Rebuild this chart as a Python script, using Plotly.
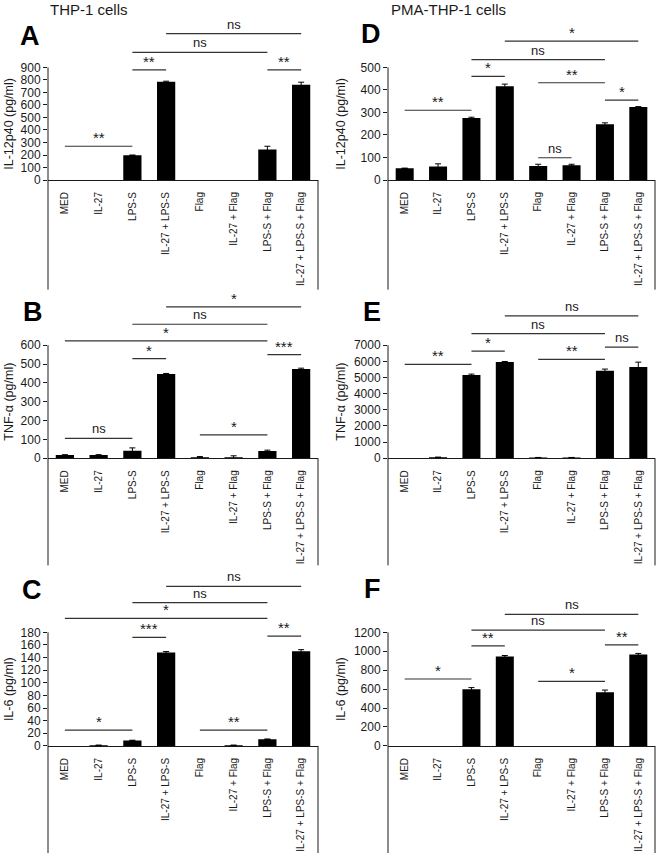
import plotly.graph_objects as go

# ---------------- DATA ----------------
categories = ["MED", "IL-27", "LPS-S", "IL-27 + LPS-S", "Flag",
              "IL-27 + Flag", "LPS-S + Flag", "IL-27 + LPS-S + Flag"]

col_titles = ["THP-1 cells", "PMA-THP-1 cells"]

# Panel A: IL-12p40, THP-1
A_values = [0, 0, 198, 785, 0, 0, 245, 762]
A_errors = [None, None, 2, 5, None, None, 25, 20]
A_ticks = [0, 100, 200, 300, 400, 500, 600, 700, 800, 900]
A_sig_pairs = [(0, 2), (2, 3), (2, 6), (3, 7), (6, 7)]
A_sig_labels = ["**", "**", "ns", "ns", "**"]
A_sig_levels = [270, 880, 1020, 1170, 880]

# Panel B: TNF-alpha, THP-1
B_values = [17, 17, 40, 447, 6, 6, 38, 474]
B_errors = [2, 2, 15, 3, 3, 7, 5, 4]
B_ticks = [0, 100, 200, 300, 400, 500, 600]
B_sig_pairs = [(0, 2), (2, 3), (0, 6), (2, 6), (3, 7), (6, 7), (4, 6)]
B_sig_labels = ["ns", "*", "*", "ns", "*", "***", "*"]
B_sig_levels = [106, 529, 623, 711, 803, 550, 124]

# Panel C: IL-6, THP-1
C_values = [0, 1, 8.5, 148, 0, 1, 10.5, 150]
C_errors = [None, 0.3, 0.5, 1.5, None, 0.3, 0.5, 2.5]
C_ticks = [0, 20, 40, 60, 80, 100, 120, 140, 160, 180]
C_sig_pairs = [(0, 2), (2, 3), (0, 6), (2, 6), (3, 7), (6, 7), (4, 6)]
C_sig_labels = ["*", "***", "*", "ns", "ns", "**", "**"]
C_sig_levels = [25, 172, 202, 227, 253, 174, 25]

# Panel D: IL-12p40, PMA-THP-1
D_values = [52, 60, 275, 416, 62, 66, 248, 324]
D_errors = [1, 12, 4, 10, 8, 4, 6, 2]
D_ticks = [0, 100, 200, 300, 400, 500]
D_sig_pairs = [(0, 2), (2, 3), (2, 6), (3, 7), (4, 6), (6, 7), (4, 5)]
D_sig_labels = ["**", "*", "ns", "*", "**", "*", "ns"]
D_sig_levels = [310, 460, 535, 617, 432, 355, 99]

# Panel E: TNF-alpha, PMA-THP-1
E_values = [10, 60, 5150, 5960, 40, 40, 5420, 5650]
E_errors = [None, 10, 60, 30, 10, 10, 100, 300]
E_ticks = [0, 1000, 2000, 3000, 4000, 5000, 6000, 7000]
E_sig_pairs = [(0, 2), (2, 3), (2, 6), (3, 7), (6, 7), (4, 6)]
E_sig_labels = ["**", "*", "ns", "ns", "ns", "**"]
E_sig_levels = [5810, 6630, 7710, 8810, 6880, 6120]

# Panel F: IL-6, PMA-THP-1
F_values = [0, 0, 598, 945, 0, 0, 568, 965]
F_errors = [None, None, 18, 10, None, None, 22, 12]
F_ticks = [0, 200, 400, 600, 800, 1000, 1200]
F_sig_pairs = [(0, 2), (2, 3), (2, 6), (3, 7), (6, 7), (4, 6)]
F_sig_labels = ["*", "**", "ns", "ns", "**", "*"]
F_sig_levels = [707, 1056, 1224, 1389, 1067, 682]

ytitles = ["IL-12p40 (pg/ml)", "TNF-α (pg/ml)", "IL-6 (pg/ml)",
           "IL-12p40 (pg/ml)", "TNF-α (pg/ml)", "IL-6 (pg/ml)"]
letters = ["A", "B", "C", "D", "E", "F"]

panels = [
    (A_values, A_errors, A_ticks, A_sig_pairs, A_sig_labels, A_sig_levels),
    (B_values, B_errors, B_ticks, B_sig_pairs, B_sig_labels, B_sig_levels),
    (C_values, C_errors, C_ticks, C_sig_pairs, C_sig_labels, C_sig_levels),
    (D_values, D_errors, D_ticks, D_sig_pairs, D_sig_labels, D_sig_levels),
    (E_values, E_errors, E_ticks, E_sig_pairs, E_sig_labels, E_sig_levels),
    (F_values, F_errors, F_ticks, F_sig_pairs, F_sig_labels, F_sig_levels),
]

# ---------------- LAYOUT (pixels) ----------------
W, H = 660, 864
col_x0 = [48, 388]
col_x1 = [318, 655]
row_base = [181.5, 462, 752]
row_toptick = [68, 348, 637.5]
row_domtop = [18, 298, 578]
row_labelbottom = [292, 570, 860]
ytitle_x = [9, 341]
letter_pos = [(30, 36), (33, 315), (32, 595), (371, 34), (372, 315), (372, 594)]
title_pos = [(48, 10), (389, 10)]

FONT = "Liberation Sans, Arial, sans-serif"
INK = "#1a1a1a"


def px(p):
    return p / W


def py(p):
    return 1 - p / H


fig = go.Figure()
shapes = []
annotations = []

for k, (vals, errs, ticks, pairs, labels, levels) in enumerate(panels):
    col = k // 3
    row = k % 3
    n = k + 1
    xa = "x" if n == 1 else f"x{n}"
    ya = "y" if n == 1 else f"y{n}"
    xkey = "xaxis" if n == 1 else f"xaxis{n}"
    ykey = "yaxis" if n == 1 else f"yaxis{n}"

    base = row_base[row]
    ttop = row_toptick[row]
    dtop = row_domtop[row]
    ymax = ticks[-1]
    rtop = ymax * (base - dtop) / (base - ttop)

    xs = list(range(len(categories)))
    fig.add_trace(go.Bar(
        x=xs, y=vals, xaxis=xa, yaxis=ya,
        marker=dict(color="black", line=dict(width=0)),
        width=0.54, showlegend=False, hoverinfo="skip",
    ))
    # error bars only where an error was measured
    ex = [x for x, e in zip(xs, errs) if e is not None]
    ey = [v for v, e in zip(vals, errs) if e is not None]
    ee = [e for e in errs if e is not None]
    fig.add_trace(go.Scatter(
        x=ex, y=ey, xaxis=xa, yaxis=ya, mode="markers",
        marker=dict(size=1, opacity=0, color="black"),
        error_y=dict(type="data", array=ee, color="black",
                     thickness=1, width=3, visible=True),
        showlegend=False, hoverinfo="skip", cliponaxis=False,
    ))

    fig.layout[xkey] = dict(
        domain=[px(col_x0[col]), px(col_x1[col])],
        anchor=ya, range=[-0.5, len(categories) - 0.5],
        tickmode="array", tickvals=xs, ticktext=categories,
        tickangle=-90, tickfont=dict(size=10, color=INK, family=FONT),
        showline=True, linecolor=INK, linewidth=1,
        ticks="", showgrid=False, zeroline=False, ticklabelstandoff=7,
        fixedrange=True,
    )
    fig.layout[ykey] = dict(
        domain=[py(base), py(dtop)], anchor=xa,
        range=[0, rtop], tickmode="array", tickvals=ticks,
        ticktext=[str(t) for t in ticks],
        tickfont=dict(size=12, color=INK, family=FONT),
        showline=False, ticks="outside", ticklen=4, tickcolor=INK,
        tickwidth=1, showgrid=False, zeroline=False, fixedrange=True,
    )

    # frame: y-axis line down through the label area, right border of label area
    shapes.append(dict(type="line", xref="paper", yref="paper",
                       x0=px(col_x0[col]), x1=px(col_x0[col]),
                       y0=py(ttop), y1=py(row_labelbottom[row]),
                       line=dict(color=INK, width=1)))
    shapes.append(dict(type="line", xref="paper", yref="paper",
                       x0=px(col_x1[col]), x1=px(col_x1[col]),
                       y0=py(base), y1=py(row_labelbottom[row]),
                       line=dict(color=INK, width=1)))

    # significance brackets
    for (i, j), lab, lev in zip(pairs, labels, levels):
        shapes.append(dict(type="line", xref=xa, yref=ya,
                           x0=i, x1=j, y0=lev, y1=lev,
                           line=dict(color="#333333", width=1.2)))
        star = lab != "ns"
        annotations.append(dict(x=(i + j) / 2, y=lev, xref=xa, yref=ya,
                                text=lab, showarrow=False, yanchor="bottom",
                                xanchor="center", yshift=-2 if star else 0,
                                font=dict(size=15 if star else 13,
                                          color=INK, family=FONT)))

    # y-axis title
    annotations.append(dict(x=px(ytitle_x[col]), y=py((base + ttop) / 2),
                            xref="paper", yref="paper", text=ytitles[k],
                            textangle=-90, showarrow=False,
                            xanchor="center", yanchor="middle",
                            font=dict(size=12.5, color=INK, family=FONT)))
    # panel letter
    lx, ly = letter_pos[k]
    annotations.append(dict(x=px(lx), y=py(ly), xref="paper", yref="paper",
                            text=f"<b>{letters[k]}</b>", showarrow=False,
                            xanchor="center", yanchor="middle",
                            font=dict(size=27, color="black", family=FONT)))

for c, t in enumerate(col_titles):
    tx, ty = title_pos[c]
    annotations.append(dict(x=px(tx), y=py(ty), xref="paper", yref="paper",
                            text=t, showarrow=False, xanchor="left",
                            yanchor="middle",
                            font=dict(size=15, color=INK, family=FONT)))

fig.update_layout(
    width=W, height=H, margin=dict(l=0, r=0, t=0, b=0),
    paper_bgcolor="white", plot_bgcolor="white",
    shapes=shapes, annotations=annotations, bargap=0.46,
    font=dict(family=FONT, color=INK),
)

fig.write_html("out.html",
               config={"displayModeBar": False, "staticPlot": True},
               post_script="document.body.style.margin='0';"
                           "document.body.style.overflow='hidden';")
